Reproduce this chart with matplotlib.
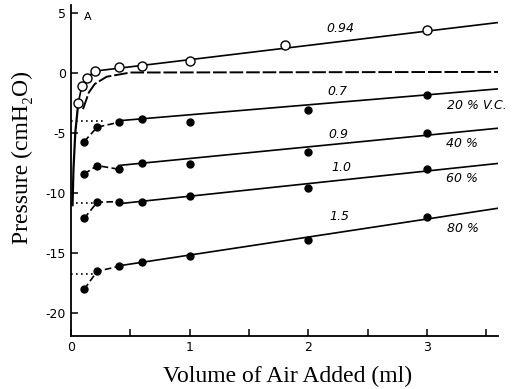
import numpy as np
import matplotlib.pyplot as plt

# open circles (0.94)
open_x = [0.06, 0.09, 0.13, 0.2, 0.4, 0.6, 1.0, 1.8, 3.0]
open_y = [-2.5, -1.1, -0.4, 0.17, 0.5, 0.6, 1.0, 2.3, 3.6]
# steep initial rise of the open-circle curve
rise_x = [0.012, 0.02, 0.035, 0.06]
rise_y = [-11.0, -8.0, -5.0, -2.5]

# filled circles, one list per lung volume
filled_x = [0.11, 0.22, 0.4, 0.6, 1.0, 2.0, 3.0]
vc20_y = [-5.7, -4.5, -4.1, -3.8, -4.1, -3.1, -1.8]
vc40_y = [-8.4, -7.7, -8.0, -7.5, -7.6, -6.6, -5.0]
vc60_y = [-12.1, -10.75, -10.7, -10.7, -10.2, -9.6, -8.0]
vc80_y = [-18.0, -16.5, -16.1, -15.75, -15.25, -13.9, -12.0]

# straight lines drawn through the later points (slope, intercept)
fit_slope = [0.83, 0.97, 1.05, 1.5]
fit_icpt = [-4.3, -8.08, -11.3, -16.65]
open_slope = 1.19
open_icpt = -0.07
# dotted extrapolation to zero volume
dot_y = [-4.0, None, -10.8, -16.7]
dot_x_end = [0.27, None, 0.2, 0.2]

# dashed curve approaching zero
dash0_x = [0.1, 0.15, 0.2, 0.3, 0.5, 3.6]
dash0_y = [-3.0, -1.6, -0.9, -0.3, 0.05, 0.1]

slope_labels = ["0.7", "0.9", "1.0", "1.5"]
slope_pos = [(2.24, -1.5), (2.25, -5.1), (2.28, -7.9), (2.26, -11.9)]
vc_labels = ["20 % V.C.", "40 %", "60 %", "80 %"]
vc_pos = [(3.42, -2.7), (3.29, -5.9), (3.29, -8.8), (3.3, -12.9)]

fig = plt.figure(figsize=(5.19, 3.89), dpi=100)
ax = fig.add_axes([0.137, 0.136, 0.823, 0.852])

k = "black"
# open-circle series
ax.plot(rise_x, rise_y, color=k, lw=1.6)
xs = np.array([0.2, 3.6])
ax.plot(open_x[:4], open_y[:4], color=k, lw=1.2)
ax.plot(xs, open_slope * xs + open_icpt, color=k, lw=1.2)
ax.plot(open_x, open_y, "o", mfc="white", mec=k, mew=1.0, ms=6.5)
ax.plot(dash0_x, dash0_y, color=k, lw=1.4, ls=(0, (7, 1.5)))
ax.text(2.27, 3.75, "0.94", fontsize=9, style="italic", ha="center", va="center")

for i, ys in enumerate([vc20_y, vc40_y, vc60_y, vc80_y]):
    ax.plot(filled_x[:3], ys[:3], color=k, lw=1.2, ls=(0, (4, 2)))
    xl = np.array([0.4, 3.6])
    ax.plot(xl, fit_slope[i] * xl + fit_icpt[i], color=k, lw=1.2)
    ax.plot(filled_x, ys, "o", color=k, ms=5)
    if dot_y[i] is not None:
        ax.plot([0.0, dot_x_end[i]], [dot_y[i], dot_y[i]], color=k, lw=1.2,
                ls=(0, (1, 2)))
    ax.text(*slope_pos[i], slope_labels[i], fontsize=9, style="italic",
            ha="center", va="center")
    ax.text(*vc_pos[i], vc_labels[i], fontsize=9, style="italic",
            ha="center", va="center")

ax.text(0.14, 4.7, "A", fontsize=8, ha="center", va="center")

ax.set_xlim(0, 3.6)
ax.set_ylim(-21.9, 5.7)
ax.spines["top"].set_visible(False)
ax.spines["right"].set_visible(False)
ax.spines["left"].set_linewidth(1.3)
ax.spines["bottom"].set_linewidth(1.3)
ax.set_xticks(np.arange(0, 3.51, 0.5))
ax.set_xticklabels(["0", "", "1", "", "2", "", "3", ""])
ax.set_yticks([5, 0, -5, -10, -15, -20])
ax.set_yticklabels(["5", "0", "-5", "-10", "-15", "-20"])
ax.tick_params(direction="in", length=5, width=1.1, labelsize=9)

fig.text(288 / 519, 1 - 376 / 389, "Volume of Air Added (ml)",
         family="Liberation Serif", fontsize=17, ha="center", va="center")
fig.text(22 / 519, 1 - 158 / 389, "Pressure (cmH₂O)", rotation=90,
         family=["Liberation Serif", "DejaVu Serif"], fontsize=17,
         ha="center", va="center")

fig.savefig("out.png", dpi=100)
